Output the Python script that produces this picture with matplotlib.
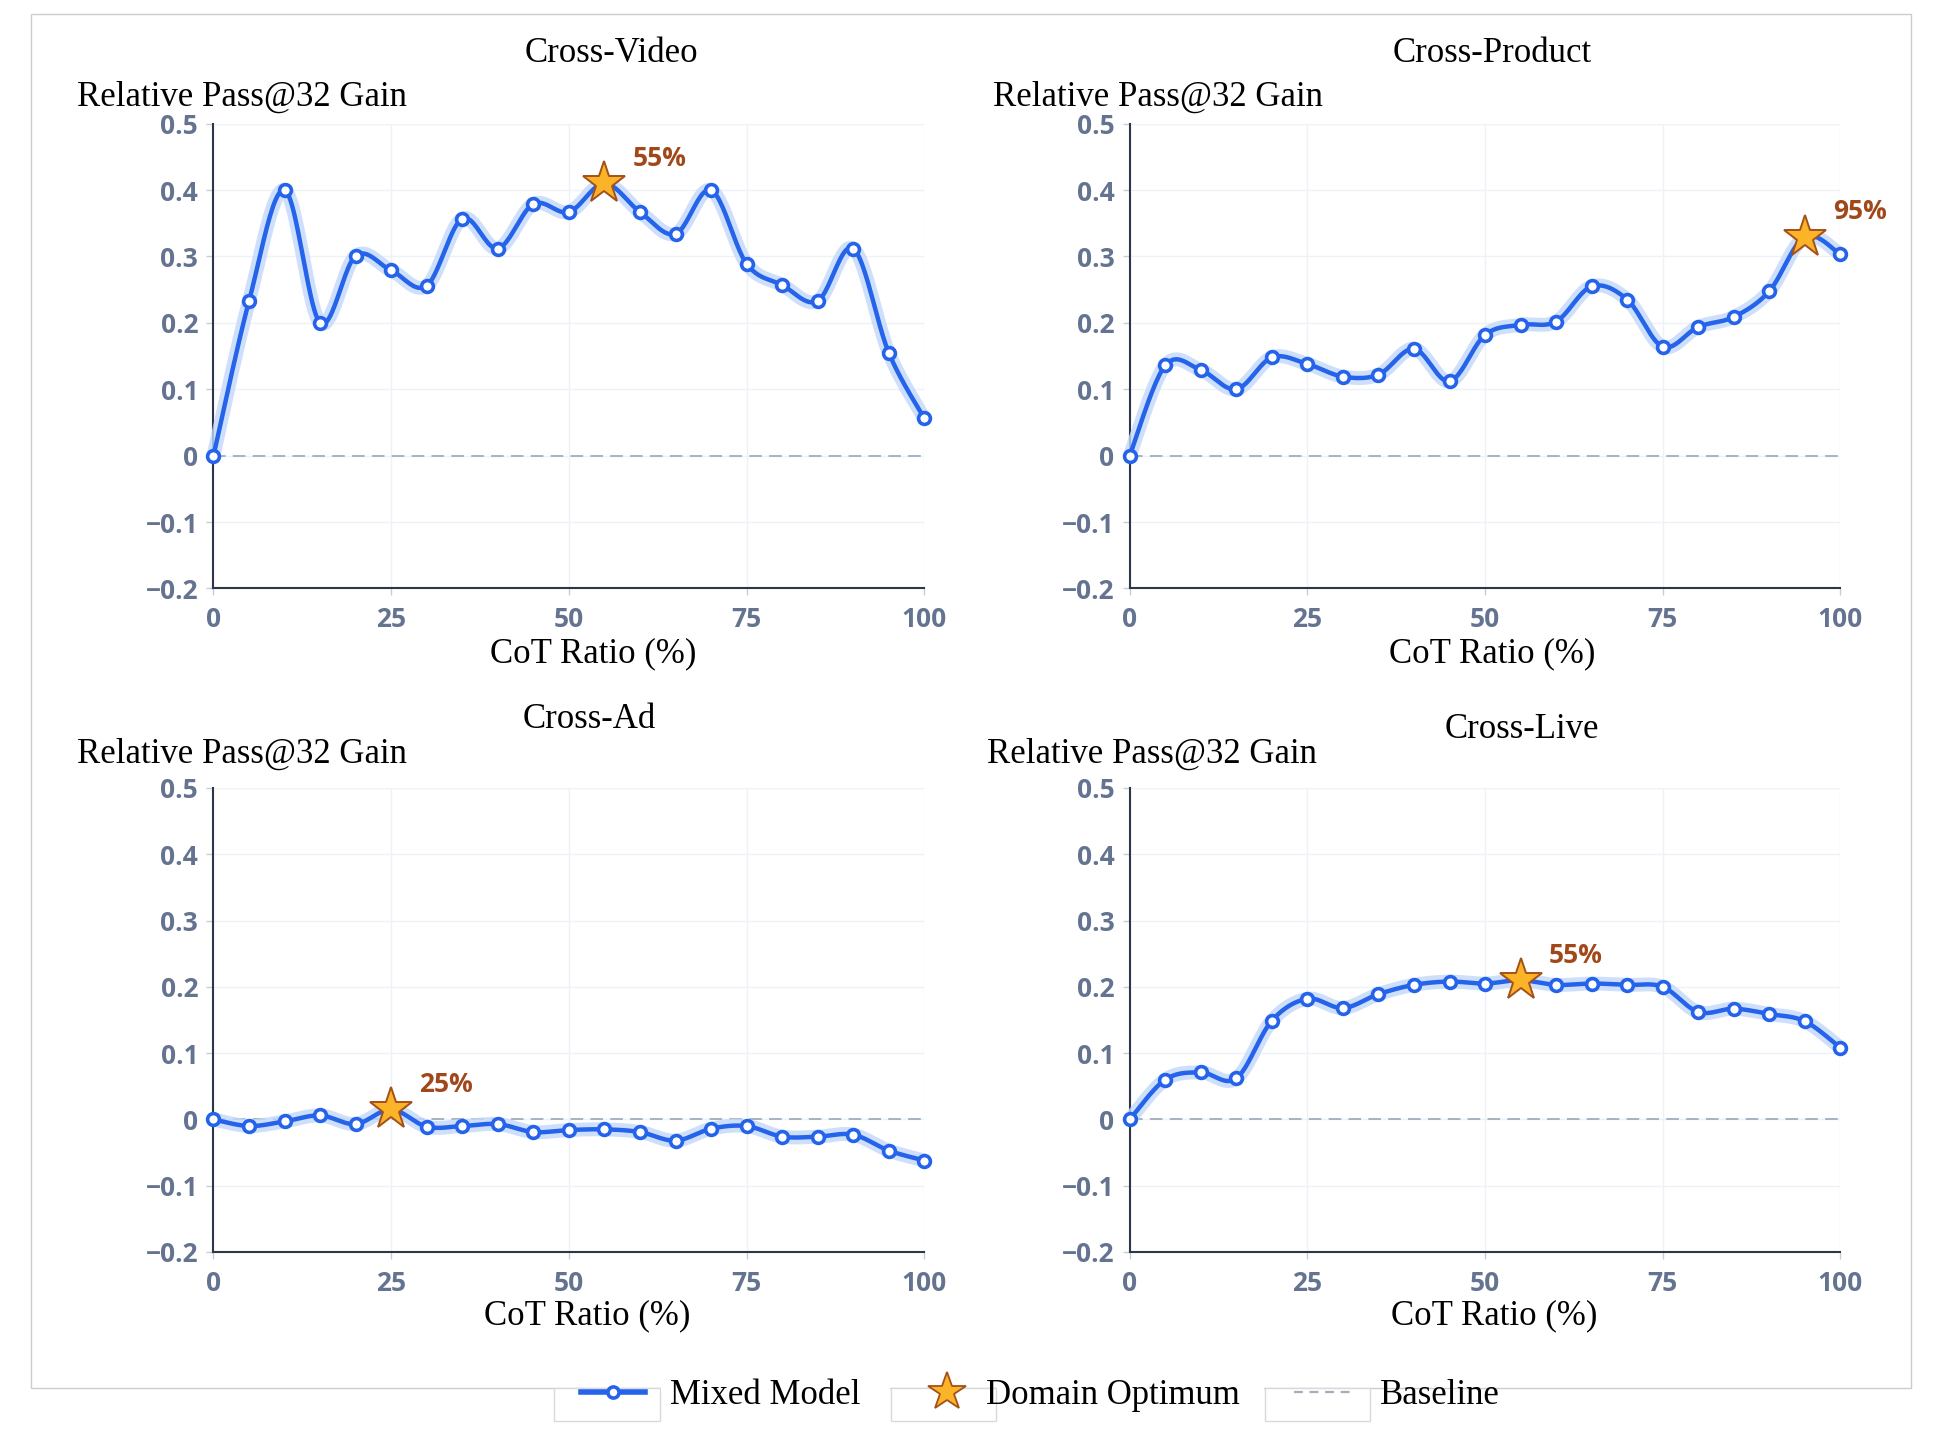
import numpy as np
import matplotlib
matplotlib.use('Agg')
import matplotlib.pyplot as plt
from matplotlib.lines import Line2D
from matplotlib.patches import Rectangle

plt.rcParams.update({
    'font.family': 'Liberation Serif',
    'axes.linewidth': 1.5,
    'axes.edgecolor': '#2d3748',
    'xtick.color': '#c5cdd8',
    'ytick.color': '#c5cdd8',
    'xtick.labelcolor': '#647390',
    'ytick.labelcolor': '#647390',
})

# ---- data
cot_ratio = [0, 5, 10, 15, 20, 25, 30, 35, 40, 45, 50, 55, 60, 65, 70, 75, 80, 85, 90, 95, 100]

cross_video = [0.0, 0.233, 0.400, 0.200, 0.301, 0.279, 0.256, 0.357, 0.312, 0.379, 0.367,
               0.410, 0.367, 0.334, 0.400, 0.289, 0.257, 0.233, 0.312, 0.155, 0.056]
cross_product = [0.0, 0.136, 0.129, 0.100, 0.148, 0.138, 0.119, 0.122, 0.161, 0.112, 0.182,
                 0.197, 0.202, 0.255, 0.235, 0.164, 0.194, 0.209, 0.248, 0.330, 0.303]
cross_ad = [0.0, -0.010, -0.003, 0.006, -0.007, 0.015, -0.011, -0.010, -0.007, -0.019, -0.016,
            -0.015, -0.019, -0.032, -0.014, -0.010, -0.026, -0.026, -0.023, -0.047, -0.062]
cross_live = [0.0, 0.060, 0.071, 0.062, 0.149, 0.182, 0.168, 0.189, 0.203, 0.208, 0.205,
              0.210, 0.203, 0.205, 0.203, 0.200, 0.162, 0.167, 0.159, 0.148, 0.108]

panel_titles = ['Cross-Video', 'Cross-Product', 'Cross-Ad', 'Cross-Live']
panel_series = [cross_video, cross_product, cross_ad, cross_live]
optimum_ratio = [55, 95, 25, 55]

y_ticks = [-0.2, -0.1, 0, 0.1, 0.2, 0.3, 0.4, 0.5]
x_ticks = [0, 25, 50, 75, 100]

BLUE = '#2563eb'
GLOW = '#c2d8fb'
STAR_FACE = '#fbb427'
STAR_EDGE = '#a4501a'
ANNOT = '#a0481a'
SANS = 'Open Sans'

W, H = 1940, 1456


def catmull_rom(x, y, n=24):
    # smooth path through the points (display only)
    pts = np.column_stack([x, y]).astype(float)
    p = np.vstack([pts[0], pts, pts[-1]])
    t = np.linspace(0, 1, n, endpoint=False)[:, None]
    out = []
    for i in range(1, len(p) - 2):
        p0, p1, p2, p3 = p[i - 1], p[i], p[i + 1], p[i + 2]
        seg = 0.5 * (2 * p1 + (-p0 + p2) * t + (2 * p0 - 5 * p1 + 4 * p2 - p3) * t**2
                     + (-p0 + 3 * p1 - 3 * p2 + p3) * t**3)
        out.append(seg)
    out.append(pts[-1:])
    s = np.vstack(out)
    return s[:, 0], s[:, 1]


def fx(px):
    return px / W


def fy(py):
    return 1 - py / H


def ytick_fmt(v):
    if abs(v) < 1e-9:
        return '0'
    return f'{v:.1f}'.replace('-', '\u2212')


fig = plt.figure(figsize=(W / 100, H / 100), dpi=100)

# outer frame
fig.patches.append(Rectangle((fx(31), fy(1388)), fx(1911) - fx(31), fy(14) - fy(1388),
                             transform=fig.transFigure, fill=False, edgecolor='#cccccc',
                             linewidth=1, zorder=0))

ax_left = [213.5, 1129.7]
ax_top = [(123.7, 588.4), (788, 1252)]
title_pos = [(611, 53), (1492, 54), (589, 719), (1522, 729)]
ylabel_pos = [(77, 97), (993, 97), (77, 754), (987, 754)]
xlabel_pos = [(593, 654), (1492, 654), (587, 1316), (1494, 1316)]

for k in range(4):
    r, c = divmod(k, 2)
    top, bot = ax_top[r]
    ax = fig.add_axes([fx(ax_left[c]), fy(bot), 710.8 / W, (bot - top) / H])
    ys = panel_series[k]

    ax.set_xlim(0, 100)
    ax.set_ylim(-0.2, 0.5)
    ax.set_xticks(x_ticks)
    ax.set_yticks(y_ticks)
    ax.set_yticklabels([ytick_fmt(v) for v in y_ticks])
    ax.grid(True, color='#eef2f7', linewidth=1.0)
    ax.set_axisbelow(True)
    for s in ['top', 'right']:
        ax.spines[s].set_visible(False)
    ax.tick_params(axis='both', length=5, width=1)
    ax.tick_params(axis='y', pad=6)
    ax.tick_params(axis='x', pad=8)
    for lab in ax.get_xticklabels() + ax.get_yticklabels():
        lab.set_fontfamily(SANS)
        lab.set_fontweight('bold')
        lab.set_fontsize(19)

    ax.plot([0, 100], [0, 0], color='#a0aec0', linewidth=1.3, linestyle=(0, (7, 4)), zorder=2)

    sx, sy = catmull_rom(cot_ratio, ys)
    ax.plot(sx, sy, color=GLOW, linewidth=10, alpha=0.8, solid_capstyle='round', zorder=3, clip_on=False)
    ax.plot(sx, sy, color=BLUE, linewidth=3.2, solid_capstyle='round', zorder=4, clip_on=False)
    ax.plot(cot_ratio, ys, linestyle='none', marker='o', markersize=8.5, markerfacecolor='white',
            markeredgecolor=BLUE, markeredgewidth=2.6, zorder=5, clip_on=False)

    ox = optimum_ratio[k]
    oy = ys[cot_ratio.index(ox)]
    ax.plot([ox], [oy], marker='*', markersize=32, markerfacecolor=STAR_FACE,
            markeredgecolor=STAR_EDGE, markeredgewidth=1.4, zorder=6, clip_on=False)
    ax.annotate(f'{ox}%', (ox, oy), xytext=(20, 18), textcoords='offset points',
                ha='left', va='center', fontsize=19, fontweight='bold', family=SANS,
                color=ANNOT, zorder=7)

    fig.text(fx(title_pos[k][0]), fy(title_pos[k][1]), panel_titles[k], fontsize=25,
             ha='center', va='center')
    fig.text(fx(ylabel_pos[k][0]), fy(ylabel_pos[k][1]), 'Relative Pass@32 Gain', fontsize=25,
             ha='left', va='center')
    fig.text(fx(xlabel_pos[k][0]), fy(xlabel_pos[k][1]), 'CoT Ratio (%)', fontsize=25,
             ha='center', va='center')

# legend: boxes under handles, white gaps under texts
for x0, x1 in [(554, 660), (891, 996), (1265, 1370)]:
    fig.patches.append(Rectangle((fx(x0), fy(1421)), fx(x1) - fx(x0), fy(1388) - fy(1421),
                                 transform=fig.transFigure, facecolor='white',
                                 edgecolor='#d9d9d9', linewidth=1, zorder=1))
for x0, x1 in [(661, 890), (997, 1264)]:
    fig.patches.append(Rectangle((fx(x0), fy(1392)), fx(x1) - fx(x0), fy(1385) - fy(1392),
                                 transform=fig.transFigure, facecolor='white',
                                 edgecolor='none', zorder=1))

h_mixed = Line2D([], [], color=BLUE, linewidth=4, marker='o', markersize=8,
                 markerfacecolor='white', markeredgecolor=BLUE, markeredgewidth=2.6)
h_star = Line2D([], [], linestyle='none', marker='*', markersize=29, markerfacecolor=STAR_FACE,
                markeredgecolor=STAR_EDGE, markeredgewidth=1.3)
h_base = Line2D([], [], color='#a0aec0', linewidth=1.6, linestyle=(0, (4, 3)))

leg_items = [(h_mixed, 'Mixed Model', 581, 1.83, 0.74),
             (h_star, 'Domain Optimum', 930, 1.0, 0.6),
             (h_base, 'Baseline', 1294, 1.77, 0.71)]
for h, lab, x0, hl, pad in leg_items:
    leg = fig.legend([h], [lab], loc='center left', bbox_to_anchor=(fx(x0), fy(1396)),
                     frameon=False, borderpad=0, borderaxespad=0, handlelength=hl,
                     handletextpad=pad, fontsize=25, numpoints=1)
    leg.set_zorder(3)

fig.savefig('out.png', dpi=100, facecolor='white')
